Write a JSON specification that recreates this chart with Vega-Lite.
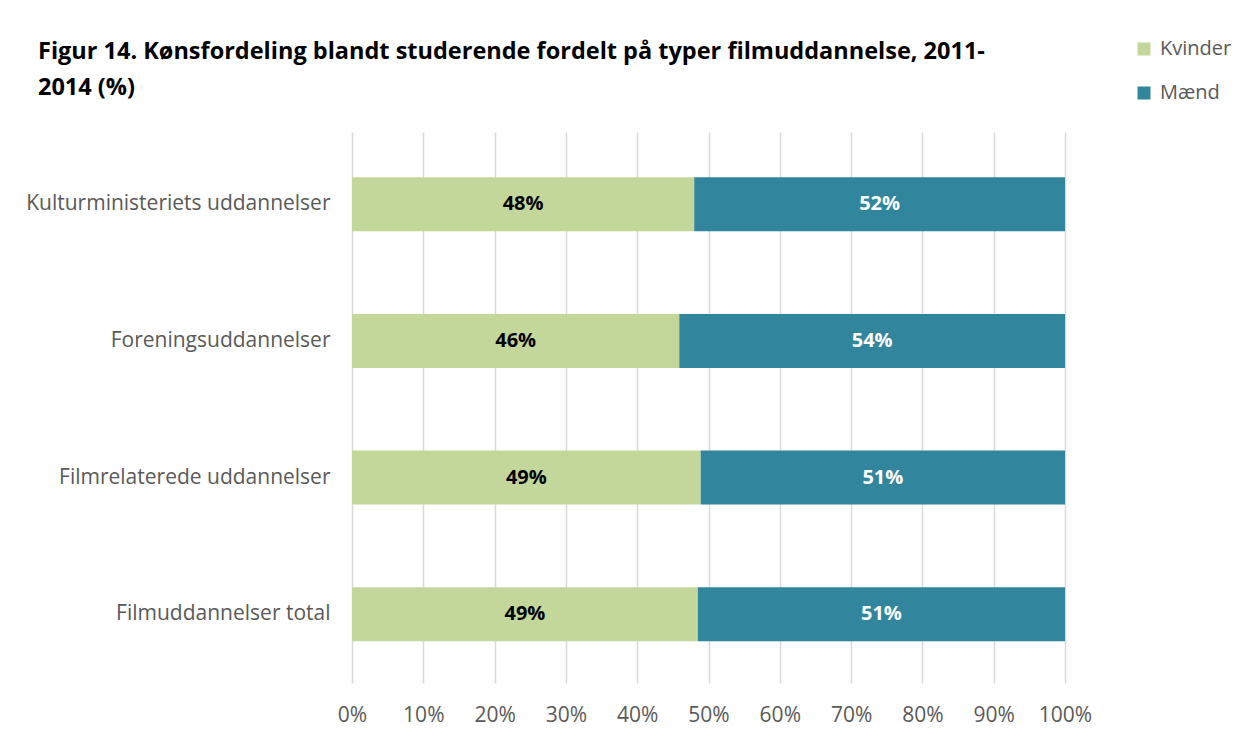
{
  "$schema": "https://vega.github.io/schema/vega-lite/v6.json",
  "width": 713,
  "height": 551,
  "autosize": {"type": "none"},
  "padding": {"left": 352, "top": 132, "right": 178, "bottom": 52},
  "background": "white",
  "title": {
    "text": ["Figur 14. Kønsfordeling blandt studerende fordelt på typer filmuddannelse, 2011-", "2014 (%)"],
    "anchor": "start",
    "frame": "group",
    "dx": -314,
    "dy": 80,
    "font": "Open Sans",
    "fontSize": 23.5,
    "fontWeight": "bold",
    "color": "black",
    "lineHeight": 35.5,
    "offset": 20
  },
  "config": {
    "view": {"stroke": null},
    "font": "Open Sans"
  },
  "data": {
    "values": [
      {"category": "Kulturministeriets uddannelser", "gender": "Kvinder", "value": 48.0, "label": "48%", "o": 1},
      {"category": "Kulturministeriets uddannelser", "gender": "Mænd", "value": 52.0, "label": "52%", "o": 2},
      {"category": "Foreningsuddannelser", "gender": "Kvinder", "value": 45.9, "label": "46%", "o": 1},
      {"category": "Foreningsuddannelser", "gender": "Mænd", "value": 54.1, "label": "54%", "o": 2},
      {"category": "Filmrelaterede uddannelser", "gender": "Kvinder", "value": 48.9, "label": "49%", "o": 1},
      {"category": "Filmrelaterede uddannelser", "gender": "Mænd", "value": 51.1, "label": "51%", "o": 2},
      {"category": "Filmuddannelser total", "gender": "Kvinder", "value": 48.5, "label": "49%", "o": 1},
      {"category": "Filmuddannelser total", "gender": "Mænd", "value": 51.5, "label": "51%", "o": 2}
    ]
  },
  "encoding": {
    "y": {
      "field": "category",
      "type": "nominal",
      "sort": null,
      "title": null,
      "scale": {"paddingInner": 0.605, "paddingOuter": 0.318, "align": 0.52},
      "axis": {
        "domain": false,
        "ticks": false,
        "labelFontSize": 21,
        "labelColor": "#595959",
        "labelPadding": 22,
        "labelLimit": 400
      }
    },
    "x": {
      "field": "value",
      "type": "quantitative",
      "stack": "zero",
      "title": null,
      "scale": {"domain": [0, 100], "nice": false},
      "axis": {
        "values": [0, 10, 20, 30, 40, 50, 60, 70, 80, 90, 100],
        "labelExpr": "datum.value + '%'",
        "domain": false,
        "ticks": false,
        "grid": true,
        "gridColor": "#D9D9D9",
        "gridWidth": 1.5,
        "labelFontSize": 21,
        "labelColor": "#595959",
        "labelPadding": 21,
        "labelFlush": false
      }
    },
    "order": {"field": "o", "type": "quantitative"}
  },
  "layer": [
    {
      "mark": {"type": "bar"},
      "encoding": {
        "color": {
          "field": "gender",
          "type": "nominal",
          "title": null,
          "scale": {"domain": ["Kvinder", "Mænd"], "range": ["#C4D79B", "#31859C"]},
          "legend": {
            "orient": "none",
            "legendX": 782,
            "legendY": -93,
            "symbolType": "square",
            "symbolSize": 169,
            "symbolStrokeWidth": 0,
            "labelFontSize": 20,
            "labelColor": "#595959",
            "labelOffset": 6,
            "rowPadding": 24
          }
        }
      }
    },
    {
      "mark": {"type": "text", "fontSize": 20, "fontWeight": "bold", "baseline": "middle", "align": "center"},
      "encoding": {
        "x": {"field": "value", "type": "quantitative", "stack": "zero", "bandPosition": 0.5},
        "text": {"field": "label"},
        "color": {
          "condition": {"test": "datum.gender === 'Mænd'", "value": "white"},
          "value": "black"
        }
      }
    }
  ]
}
